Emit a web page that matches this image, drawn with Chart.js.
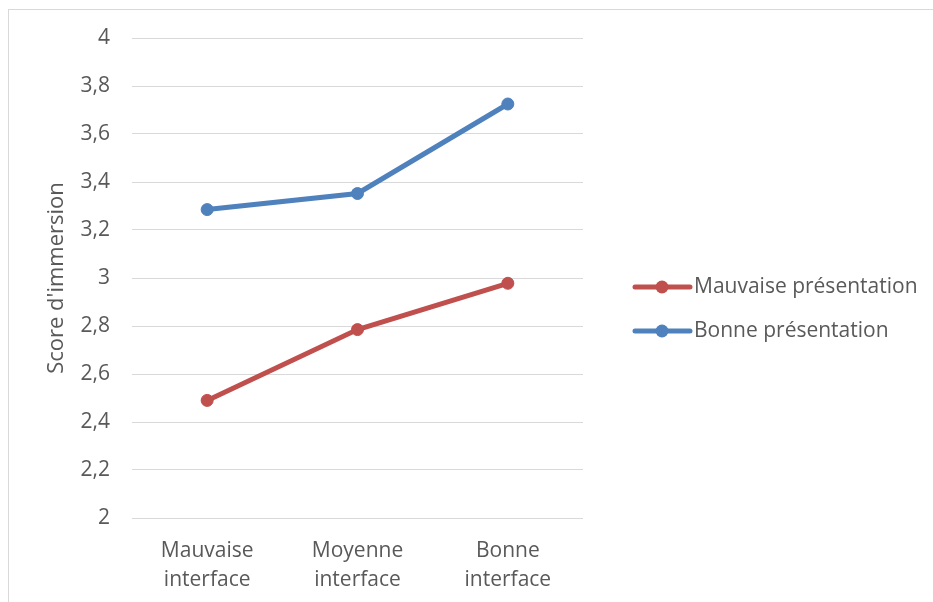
<!DOCTYPE html>
<html>
<head>
<meta charset="utf-8">
<script src="https://cdn.jsdelivr.net/npm/chart.js@4"></script>
<style>
  html, body { margin: 0; padding: 0; background: #fff; }
  canvas { display: block; }
</style>
</head>
<body>
<canvas id="chart" width="933" height="602"></canvas>
<script>
const categories = [["Mauvaise", "interface"], ["Moyenne", "interface"], ["Bonne", "interface"]];
const seriesNames = ["Mauvaise présentation", "Bonne présentation"];
const mauvaisePresentation = [2.49, 2.785, 2.978];
const bonnePresentation = [3.285, 3.352, 3.725];
const yMin = 2;
const yMax = 4;
const yStep = 0.2;

const textColor = "#595959";
const fontFamily = "'Open Sans', 'Liberation Sans', sans-serif";

// frame around the chart + white background
const framePlugin = {
  id: "frame",
  beforeDraw(chart) {
    const ctx = chart.ctx;
    ctx.save();
    ctx.fillStyle = "#fff";
    ctx.fillRect(0, 0, chart.width, chart.height);
    ctx.strokeStyle = "#d9d9d9";
    ctx.lineWidth = 1;
    ctx.strokeRect(8.5, 9.5, chart.width + 20, chart.height + 20);
    ctx.restore();
  }
};

// legend on the right: line with a dot, then the name
const legendPlugin = {
  id: "lineLegend",
  afterDraw(chart) {
    const ctx = chart.ctx;
    const x0 = chart.chartArea.right + 52;
    ctx.save();
    ctx.font = "21px " + fontFamily;
    ctx.textBaseline = "middle";
    chart.data.datasets.forEach((ds, i) => {
      const y = 287 + i * 44;
      ctx.strokeStyle = ds.borderColor;
      ctx.lineWidth = 5;
      ctx.lineCap = "round";
      ctx.beginPath();
      ctx.moveTo(x0, y);
      ctx.lineTo(x0 + 55, y);
      ctx.stroke();
      ctx.fillStyle = ds.borderColor;
      ctx.beginPath();
      ctx.arc(x0 + 27, y, 6.5, 0, Math.PI * 2);
      ctx.fill();
      ctx.fillStyle = textColor;
      ctx.fillText(ds.label, x0 + 59, y);
    });
    ctx.restore();
  }
};

new Chart(document.getElementById("chart"), {
  type: "line",
  data: {
    labels: categories,
    datasets: [
      {
        label: seriesNames[0],
        data: mauvaisePresentation,
        borderColor: "#c0504d",
        backgroundColor: "#c0504d",
        borderWidth: 5,
        pointRadius: 6,
        pointBorderWidth: 1,
        pointHoverRadius: 6,
        tension: 0
      },
      {
        label: seriesNames[1],
        data: bonnePresentation,
        borderColor: "#4f81bd",
        backgroundColor: "#4f81bd",
        borderWidth: 5,
        pointRadius: 6,
        pointBorderWidth: 1,
        pointHoverRadius: 6,
        tension: 0
      }
    ]
  },
  options: {
    responsive: false,
    animation: false,
    layout: { padding: { left: 30, top: 38, right: 350, bottom: 0 } },
    plugins: {
      legend: { display: false },
      tooltip: { enabled: false }
    },
    scales: {
      x: {
        offset: true,
        grid: { display: false },
        border: { display: false },
        ticks: {
          color: textColor,
          padding: 11,
          maxRotation: 0,
          font: { family: fontFamily, size: 21, lineHeight: 1.38 }
        },
        afterFit(scale) { scale.height = 602 - 518; }
      },
      y: {
        min: yMin,
        max: yMax,
        grid: { color: "#d9d9d9", lineWidth: 1, drawTicks: false },
        border: { display: false },
        ticks: {
          stepSize: yStep,
          color: textColor,
          padding: 22,
          font: { family: fontFamily, size: 21 },
          callback: v => Math.abs(v - Math.round(v)) < 1e-9 ? String(Math.round(v)) : v.toFixed(1).replace(".", ",")
        },
        title: {
          display: true,
          text: "Score d'immersion",
          color: textColor,
          padding: { top: 14, bottom: 0 },
          font: { family: fontFamily, size: 22 }
        },
        afterFit(scale) { scale.width = 132 - 30; }
      }
    }
  },
  plugins: [framePlugin, legendPlugin]
});
</script>
</body>
</html>
